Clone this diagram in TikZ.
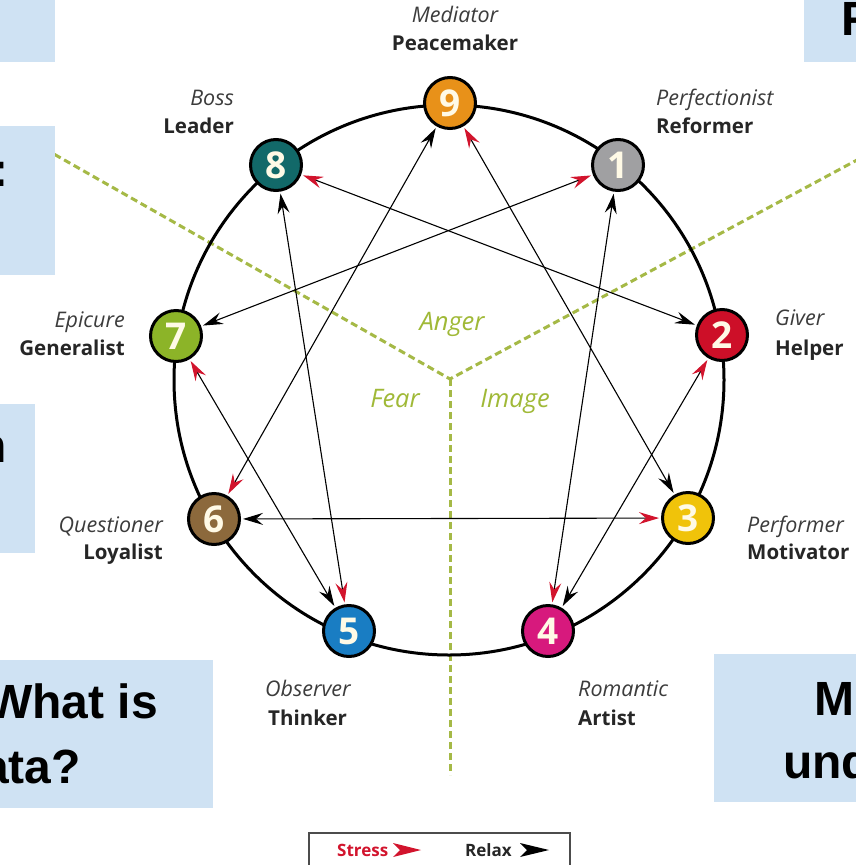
\documentclass[tikz,border=0pt]{standalone}
\usepackage{fontspec}
\setmainfont{Open Sans}
\newfontfamily\arialf{Liberation Sans}
\usetikzlibrary{arrows.meta}
\definecolor{boxblue}{RGB}{207,226,243}
\definecolor{dashgreen}{RGB}{165,185,70}
\definecolor{wordgreen}{RGB}{160,185,55}
\definecolor{stressred}{RGB}{210,20,45}
\definecolor{c9}{RGB}{232,145,25}
\definecolor{c8}{RGB}{18,105,105}
\definecolor{c1}{RGB}{160,160,162}
\definecolor{c2}{RGB}{205,15,40}
\definecolor{c3}{RGB}{240,195,10}
\definecolor{c4}{RGB}{215,25,125}
\definecolor{c5}{RGB}{25,125,195}
\definecolor{c6}{RGB}{140,105,60}
\definecolor{c7}{RGB}{140,180,40}
\definecolor{labgray}{RGB}{60,60,60}
\definecolor{numwhite}{RGB}{255,250,230}
\tikzset{
  StressTip/.tip={Stealth[length=20pt,width=12pt,inset=7pt,color=stressred]},
  RelaxTip/.tip={Stealth[length=20pt,width=12pt,inset=7pt,color=black]},
}
\begin{document}
\begin{tikzpicture}[x=1pt,y=-1pt,
  num/.style={circle,draw=black,line width=3pt,minimum size=51pt,inner sep=0pt,text=numwhite,font=\fontsize{37}{37}\selectfont\bfseries},
  it/.style={inner sep=0pt,font=\fontsize{21.5}{24}\selectfont\itshape,text=labgray},
  bf/.style={inner sep=0pt,font=\fontsize{20.5}{24}\selectfont\bfseries,text=black!85},
  zone/.style={inner sep=0pt,font=\fontsize{25.5}{28}\selectfont\itshape,text=wordgreen},
  divider/.style={draw=dashgreen,line width=3pt,dash pattern=on 7pt off 4pt},
  ring/.style={draw=black,line width=3pt},
  edge/.style={draw=black,line width=1.1pt,shorten >=2pt,shorten <=2pt},
  box/.style={fill=boxblue,inner sep=0pt,outer sep=0pt,anchor=north west},
  bigtxt/.style={inner sep=0pt,font=\arialf\bfseries\fontsize{48}{48}\selectfont},
  legbox/.style={draw=black!70,line width=2pt,inner sep=0pt,anchor=north west,minimum width=261pt,minimum height=45pt},
  legtxt/.style={inner sep=0pt,font=\fontsize{17}{20}\selectfont\bfseries},
]
\useasboundingbox (0,0) rectangle (856,865);
\clip (0,0) rectangle (856,865);
\fill[white] (0,0) rectangle (856,865);

% dividers
\coordinate (ctr) at (450,379);
\coordinate (dl) at (45,149);
\coordinate (dr) at (870,153);
\coordinate (dd) at (450,775);
\draw[divider] (dl) -- (ctr) -- (dr);
\draw[divider] (ctr) -- (dd);

% ring
\draw[ring] (449,380) circle[radius=275pt];

% points
\node[num,fill=c9] (n9) at (450,103) {9};
\node[num,fill=c1] (n1) at (618,165) {1};
\node[num,fill=c2] (n2) at (722,335) {2};
\node[num,fill=c3] (n3) at (688,518) {3};
\node[num,fill=c4] (n4) at (548,631) {4};
\node[num,fill=c5] (n5) at (349,631) {5};
\node[num,fill=c6] (n6) at (214,519) {6};
\node[num,fill=c7] (n7) at (176,336) {7};
\node[num,fill=c8] (n8) at (276,165) {8};

% connectors: stress arrow at the end, relax arrow at the start
\draw[edge,RelaxTip-StressTip] (n1) -- (n4);
\draw[edge,RelaxTip-StressTip] (n2) -- (n8);
\draw[edge,RelaxTip-StressTip] (n3) -- (n9);
\draw[edge,RelaxTip-StressTip] (n4) -- (n2);
\draw[edge,RelaxTip-StressTip] (n5) -- (n7);
\draw[edge,RelaxTip-StressTip] (n6) -- (n3);
\draw[edge,RelaxTip-StressTip] (n7) -- (n1);
\draw[edge,RelaxTip-StressTip] (n8) -- (n5);
\draw[edge,RelaxTip-StressTip] (n9) -- (n6);

% labels
\node[it,anchor=base] (l9a) at (455,22) {Mediator};
\node[bf,anchor=base] (l9b) at (455,50) {Peacemaker};
\node[it,anchor=base east] (l8a) at (234,105) {Boss};
\node[bf,anchor=base east] (l8b) at (234,133) {Leader};
\node[it,anchor=base west] (l1a) at (656,105) {Perfectionist};
\node[bf,anchor=base west] (l1b) at (656,133) {Reformer};
\node[it,anchor=base east] (l7a) at (125,327) {Epicure};
\node[bf,anchor=base east] (l7b) at (125,355) {Generalist};
\node[it,anchor=base west] (l2a) at (775,325) {Giver};
\node[bf,anchor=base west] (l2b) at (775,355) {Helper};
\node[it,anchor=base east] (l6a) at (163,532) {Questioner};
\node[bf,anchor=base east] (l6b) at (163,559) {Loyalist};
\node[it,anchor=base west] (l3a) at (747,532) {Performer};
\node[bf,anchor=base west] (l3b) at (747,559) {Motivator};
\node[it,anchor=base west] (l5a) at (265,696) {Observer};
\node[bf,anchor=base west] (l5b) at (268,725) {Thinker};
\node[it,anchor=base west] (l4a) at (578,696) {Romantic};
\node[bf,anchor=base west] (l4b) at (578,725) {Artist};

% centre words
\node[zone,anchor=base] (anger) at (452,330) {Anger};
\node[zone,anchor=base] (fear) at (395,407) {Fear};
\node[zone,anchor=base] (image) at (515,407) {Image};

% legend
\node[legbox] (leg) at (308,832) {};
\node[legtxt,text=stressred,anchor=base west] (lstress) at (337,856) {Stress};
\node[legtxt,text=black!85,anchor=base west] (lrelax) at (465,856) {Relax};
\fill[stressred] (393,843) -- (421,850) -- (393,857) -- (400,850) -- cycle;
\fill[black] (520,843) -- (549,850) -- (520,857) -- (527,850) -- cycle;

% overlay boxes
\node[box,minimum width=55pt,minimum height=62pt] (b1) at (0,0) {};
\node[box,minimum width=55pt,minimum height=149pt] (b2) at (0,126) {};
\node[box,minimum width=35pt,minimum height=149pt] (b3) at (0,404) {};
\node[box,minimum width=213pt,minimum height=148pt] (b4) at (0,660) {};
\node[box,minimum width=52pt,minimum height=62pt] (b5) at (804,0) {};
\node[box,minimum width=142pt,minimum height=148pt] (b6) at (714,654) {};

\node[bigtxt,anchor=base east] (t2) at (9,186) {:};
\node[bigtxt,anchor=base east] (t3) at (7,462) {n};
\node[bigtxt,anchor=base east] (t4a) at (158,718) {What is};
\node[bigtxt,anchor=base east] (t4b) at (81,783) {ata?};
\node[bigtxt,anchor=base west] (t5) at (841,35) {F};
\node[bigtxt,anchor=base west] (t6a) at (814,715) {M};
\node[bigtxt,anchor=base west] (t6b) at (783,778) {und};
\end{tikzpicture}
\end{document}
